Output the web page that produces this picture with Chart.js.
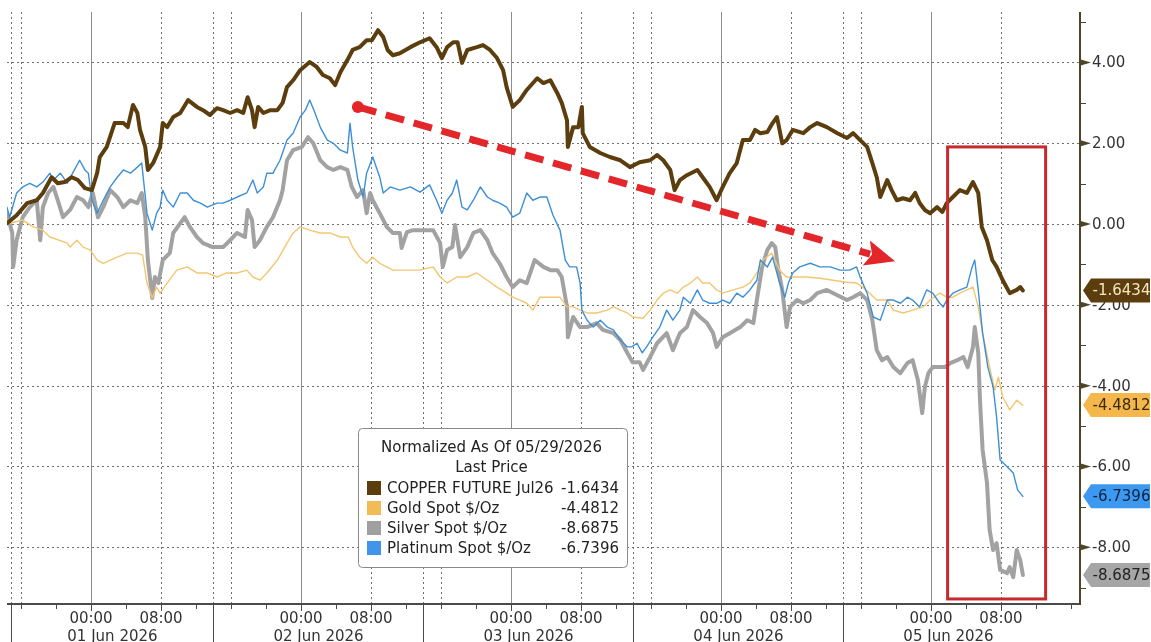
<!DOCTYPE html>
<html>
<head>
<meta charset="utf-8">
<title>Copper vs precious metals, normalized</title>
<script src="https://cdn.jsdelivr.net/npm/chart.js@4.4.1/dist/chart.umd.min.js"></script>
<style>
  html, body { margin: 0; padding: 0; background: #fff; }
</style>
</head>
<body>
<canvas id="chart" width="1151" height="642"></canvas>
<script>
// time is in hours since 01 Jun 2026 00:00, values are % change normalized as of 05/29/2026
const copperHours = [
  -9.6, -8.5, -7.3, -6.2, -5.5, -4.5, -3.8, -3.0, -2.2, -1.5,
  -0.7, 0.1, 0.7, 1.0, 1.8, 2.7, 3.7, 4.2, 4.8, 5.3,
  5.6, 6.2, 6.5, 7.1, 7.9, 8.2, 8.7, 9.4, 10.2, 11.1,
  12.1, 12.8, 13.6, 14.4, 15.1, 15.9, 16.7, 17.4, 17.9, 18.4,
  18.7, 19.1, 19.7, 20.5, 21.3, 21.9, 22.4, 23.1, 23.9, 25.0,
  25.8, 26.5, 27.3, 27.9, 28.5, 29.3, 29.9, 30.7, 31.5, 32.1,
  32.8, 33.4, 33.9, 34.5, 35.3, 36.5, 37.6, 38.7, 39.5, 40.1,
  40.7, 41.4, 41.9, 42.4, 43.0, 44.1, 44.8, 45.6, 46.4, 47.1,
  47.5, 48.2, 49.0, 49.8, 51.0, 51.7, 52.5, 53.3, 53.8, 54.4,
  54.5, 55.1, 55.7, 56.1, 56.2, 57.0, 58.2, 59.3, 60.5, 61.6,
  62.7, 63.9, 64.7, 65.4, 66.2, 66.7, 67.3, 68.1, 69.3, 69.9,
  70.7, 71.5, 72.2, 73.0, 73.8, 74.5, 75.3, 75.9, 76.5, 77.3,
  77.9, 78.4, 79.0, 79.5, 80.2, 81.4, 82.2, 83.0, 84.1, 85.3,
  86.4, 87.1, 87.9, 88.7, 89.3, 89.8, 90.2, 91.0, 91.5, 92.1,
  92.8, 93.6, 94.2, 94.7, 95.3, 95.9, 96.7, 97.3, 97.8, 98.5,
  99.3, 100.1, 100.8, 101.4, 101.8, 102.4, 103.0, 103.5, 104.2, 105.0,
  105.8, 106.2, 106.5
];
const copperValues = [
  0.02, 0.22, 0.52, 0.59, 0.77, 1.16, 1.01, 1.04, 1.16, 1.09,
  0.89, 0.84, 1.26, 1.66, 1.91, 2.50, 2.50, 2.40, 2.95, 2.75,
  2.33, 1.91, 1.34, 1.51, 1.91, 2.50, 2.40, 2.65, 2.75, 3.07,
  2.90, 2.82, 2.70, 2.87, 2.82, 2.75, 2.82, 2.75, 3.14, 2.82,
  2.40, 2.90, 2.75, 2.82, 2.82, 3.00, 3.39, 3.56, 3.81, 4.01,
  3.89, 3.69, 3.61, 3.44, 3.76, 4.06, 4.31, 4.38, 4.55, 4.55,
  4.80, 4.63, 4.31, 4.18, 4.23, 4.38, 4.50, 4.60, 4.38, 4.11,
  4.38, 4.50, 4.50, 3.99, 4.31, 4.38, 4.43, 4.31, 4.11, 3.81,
  3.39, 2.90, 3.07, 3.32, 3.61, 3.49, 3.56, 3.24, 3.00, 2.57,
  1.91, 2.40, 2.40, 2.90, 2.25, 1.91, 1.76, 1.66, 1.58, 1.41,
  1.53, 1.58, 1.71, 1.58, 1.34, 0.84, 1.09, 1.21, 1.34, 1.16,
  0.92, 0.59, 0.92, 1.26, 1.51, 2.08, 2.08, 2.33, 2.25, 2.28,
  2.50, 2.65, 2.00, 2.08, 2.33, 2.25, 2.40, 2.50, 2.40, 2.25,
  2.13, 2.25, 2.08, 1.91, 1.51, 1.16, 0.67, 1.09, 0.84, 0.59,
  0.64, 0.59, 0.77, 0.52, 0.35, 0.27, 0.42, 0.30, 0.52, 0.67,
  0.84, 0.77, 1.04, 0.77, -0.07, -0.40, -0.89, -1.06, -1.39, -1.71,
  -1.63, -1.56, -1.6434
];

const goldHours = [
  -9.6, -9.3, -7.8, -6.6, -5.5, -4.7, -2.7, -2.4, -1.6, -0.9,
  -0.1, 0.7, 1.4, 2.2, 3.0, 4.1, 5.3, 5.9, 6.4, 7.0,
  7.5, 7.9, 8.7, 9.8, 11.0, 12.1, 13.3, 14.4, 15.5, 16.7,
  17.8, 18.5, 19.3, 20.1, 21.3, 22.4, 23.1, 23.9, 25.0, 26.2,
  27.3, 28.5, 29.4, 29.9, 30.7, 31.5, 32.2, 33.0, 33.8, 34.5,
  36.1, 37.6, 39.1, 39.9, 40.7, 41.8, 43.0, 44.1, 45.3, 46.4,
  47.5, 48.2, 49.0, 49.8, 50.5, 51.3, 52.5, 53.6, 54.4, 55.1,
  55.9, 56.7, 57.8, 59.0, 59.7, 60.5, 61.3, 61.9, 63.1, 63.9,
  64.7, 65.4, 66.2, 67.0, 67.7, 68.5, 69.3, 69.9, 70.7, 71.5,
  72.2, 73.4, 74.5, 75.3, 76.1, 76.8, 77.8, 78.7, 79.5, 80.7,
  81.8, 83.3, 84.8, 86.4, 87.5, 88.2, 89.0, 89.8, 91.0, 91.7,
  92.8, 93.9, 95.1, 95.9, 97.0, 97.8, 98.5, 99.3, 100.1, 100.8,
  101.4, 101.9, 102.7, 103.3, 103.7, 104.2, 105.0, 105.8, 106.5
];
const goldValues = [
  0.10, 0.02, 0.10, -0.07, -0.15, -0.32, -0.47, -0.57, -0.40, -0.57,
  -0.64, -0.89, -0.97, -0.89, -0.82, -0.72, -0.72, -0.77, -1.46, -1.83,
  -1.56, -1.71, -1.46, -1.14, -1.06, -1.21, -1.21, -1.31, -1.21, -1.21,
  -1.14, -1.31, -1.39, -1.21, -0.89, -0.47, -0.22, -0.07, -0.15, -0.22,
  -0.22, -0.32, -0.32, -0.57, -0.82, -0.97, -0.82, -0.97, -1.06, -1.14,
  -1.14, -1.14, -1.06, -1.31, -1.46, -1.31, -1.31, -1.21, -1.39, -1.56,
  -1.71, -1.81, -1.88, -1.96, -2.13, -1.81, -1.81, -1.81, -2.05, -2.05,
  -2.13, -2.20, -2.20, -2.13, -2.05, -2.13, -2.20, -2.30, -2.33, -2.13,
  -1.88, -1.71, -1.63, -1.71, -1.56, -1.46, -1.31, -1.46, -1.46, -1.63,
  -1.71, -1.63, -1.56, -1.46, -1.21, -0.89, -0.72, -1.14, -1.31, -1.31,
  -1.31, -1.34, -1.39, -1.44, -1.46, -1.56, -1.71, -1.88, -1.88, -2.13,
  -2.20, -2.13, -2.05, -1.88, -1.71, -1.81, -1.81, -1.71, -1.63, -1.56,
  -2.05, -2.70, -3.54, -4.11, -3.79, -4.28, -4.60, -4.36, -4.4812
];

const silverHours = [
  -9.6, -9.0, -8.9, -8.5, -7.8, -7.0, -6.2, -5.8, -5.5, -4.9,
  -4.3, -3.8, -3.2, -2.4, -1.6, -0.9, -0.3, 0.2, 0.8, 1.4,
  2.2, 3.0, 3.7, 4.5, 5.3, 5.8, 6.2, 6.5, 7.0, 7.3,
  7.7, 8.2, 9.0, 9.4, 9.9, 10.7, 11.3, 12.1, 12.8, 13.9,
  15.1, 15.9, 16.7, 17.6, 17.9, 18.4, 18.7, 19.3, 20.1, 20.8,
  21.6, 21.9, 22.4, 23.1, 24.1, 24.8, 25.4, 26.2, 27.0, 27.7,
  28.5, 29.3, 29.8, 30.4, 31.1, 31.5, 31.9, 32.2, 33.0, 33.8,
  34.5, 35.3, 35.5, 36.1, 36.8, 37.9, 39.1, 39.9, 40.2, 40.7,
  41.3, 41.6, 42.2, 43.0, 43.7, 44.5, 45.3, 45.9, 46.7, 47.5,
  48.2, 49.0, 49.8, 50.7, 51.7, 52.5, 53.3, 53.8, 54.4, 54.5,
  55.1, 55.9, 56.7, 57.8, 58.5, 59.7, 60.5, 61.3, 61.9, 62.7,
  63.1, 63.9, 64.7, 65.8, 66.5, 67.3, 68.1, 68.8, 69.6, 70.4,
  71.1, 71.5, 72.2, 73.0, 74.2, 75.0, 75.7, 76.1, 76.7, 77.3,
  77.8, 78.2, 78.5, 79.0, 79.5, 79.9, 80.7, 81.4, 82.2, 83.0,
  84.1, 85.3, 86.4, 87.1, 87.9, 88.7, 89.3, 89.8, 90.4, 91.0,
  91.7, 92.5, 93.3, 93.9, 94.5, 95.0, 95.3, 95.7, 96.2, 97.0,
  97.6, 98.2, 99.0, 99.7, 100.2, 100.8, 101.0, 101.4, 101.6, 101.9,
  102.4, 102.7, 103.1, 103.5, 103.9, 104.7, 105.0, 105.4, 105.8, 106.2,
  106.5
];
const silverValues = [
  0.27, -0.22, -1.06, -0.40, 0.17, 0.42, 0.59, -0.40, 0.42, 0.77,
  0.92, 0.59, 0.17, 0.35, 0.67, 0.59, 0.42, 0.77, 0.17, 0.42,
  0.84, 0.67, 0.42, 0.59, 0.52, 0.77, 0.17, -0.89, -1.83, -1.31,
  -1.46, -0.89, -0.72, -0.22, -0.07, 0.17, -0.07, -0.32, -0.47, -0.57,
  -0.57, -0.40, -0.22, -0.32, 0.35, 0.10, -0.57, -0.40, -0.07, 0.17,
  0.59, 0.84, 1.58, 1.83, 1.91, 2.15, 2.00, 1.58, 1.41, 1.34,
  1.41, 1.34, 0.92, 0.67, 0.84, 0.27, 0.77, 0.59, 0.27, -0.07,
  -0.22, -0.22, -0.59, -0.20, -0.15, -0.15, -0.15, -0.47, -1.06, -0.64,
  -0.57, -0.02, -0.82, -0.57, -0.22, -0.15, -0.40, -0.72, -0.97, -1.31,
  -1.56, -1.39, -1.46, -0.89, -1.06, -1.14, -1.14, -1.31, -2.05, -2.80,
  -2.30, -2.55, -2.55, -2.45, -2.62, -2.70, -2.87, -3.19, -3.42, -3.42,
  -3.61, -3.29, -2.95, -2.70, -3.12, -2.70, -2.55, -2.13, -2.30, -2.45,
  -2.70, -3.04, -2.80, -2.70, -2.55, -2.38, -2.45, -1.88, -1.06, -0.64,
  -0.47, -0.57, -1.06, -1.63, -2.55, -2.05, -1.88, -1.96, -1.88, -1.71,
  -1.63, -1.76, -1.88, -1.81, -1.71, -1.88, -2.38, -3.12, -3.37, -3.29,
  -3.54, -3.69, -3.44, -3.37, -3.86, -4.68, -4.03, -3.69, -3.54, -3.54,
  -3.54, -3.44, -3.37, -3.29, -3.54, -3.04, -2.55, -3.19, -4.36, -5.59,
  -6.41, -7.57, -8.07, -7.90, -8.56, -8.64, -8.49, -8.74, -8.07, -8.32,
  -8.6875
];

const platinumHours = [
  -9.6, -9.3, -8.5, -7.8, -7.0, -6.2, -5.5, -4.7, -4.3, -3.5,
  -2.7, -2.1, -1.3, -0.7, -0.3, 0.1, 0.7, 1.4, 2.2, 3.0,
  3.7, 4.5, 5.3, 5.8, 6.4, 7.0, 7.5, 7.9, 8.2, 8.7,
  9.4, 10.2, 11.0, 11.7, 12.5, 13.3, 14.4, 15.1, 15.9, 16.7,
  17.8, 18.5, 19.0, 19.7, 20.1, 20.8, 21.6, 22.4, 23.1, 23.9,
  24.5, 25.0, 25.6, 26.2, 27.0, 27.7, 28.5, 29.3, 29.6, 29.9,
  30.5, 31.1, 31.5, 32.2, 33.0, 33.4, 34.2, 35.3, 36.5, 37.6,
  38.7, 39.5, 40.1, 40.7, 41.3, 41.8, 42.4, 43.0, 43.7, 44.5,
  45.3, 45.9, 46.7, 47.5, 48.2, 49.0, 49.8, 50.5, 51.3, 52.1,
  52.8, 53.6, 54.2, 54.7, 55.5, 55.9, 56.1, 56.7, 57.4, 58.2,
  59.0, 59.7, 60.5, 61.3, 61.8, 62.4, 63.0, 63.5, 64.2, 65.0,
  65.8, 66.5, 67.3, 67.7, 68.5, 69.3, 69.9, 70.7, 71.5, 72.2,
  73.0, 73.8, 74.5, 75.3, 76.1, 76.5, 77.3, 77.9, 78.7, 79.3,
  79.7, 80.2, 81.0, 82.2, 83.3, 84.5, 85.6, 86.7, 87.5, 87.9,
  88.7, 89.4, 90.2, 91.0, 91.7, 92.5, 93.3, 93.9, 94.7, 95.5,
  96.2, 97.0, 97.4, 97.8, 98.5, 99.3, 100.1, 100.7, 101.0, 101.4,
  101.9, 102.5, 103.1, 103.5, 103.9, 104.7, 105.4, 105.9, 106.5
];
const platinumValues = [
  0.42, 0.17, 0.77, 0.92, 1.01, 0.92, 1.04, 1.26, 1.09, 1.26,
  1.01, 1.26, 1.58, 1.34, 1.26, 0.59, 0.27, 0.59, 0.92, 1.16,
  1.34, 1.26, 1.41, 1.51, 0.27, -0.15, 0.27, 0.42, 0.84, 0.59,
  0.42, 0.77, 0.77, 0.59, 0.52, 0.42, 0.52, 0.52, 0.59, 0.67,
  0.77, 1.09, 0.77, 0.92, 1.26, 1.26, 1.58, 2.08, 2.25, 2.65,
  2.82, 3.07, 2.75, 2.40, 2.08, 2.00, 1.83, 1.76, 2.50, 1.91,
  1.09, 0.67, 1.26, 1.66, 1.16, 0.77, 0.92, 0.84, 0.92, 0.79,
  0.97, 0.59, 0.27, 0.59, 0.77, 1.09, 0.42, 0.35, 0.59, 0.92,
  0.67, 0.59, 0.52, 0.42, 0.17, 0.27, 0.77, 0.59, 0.67, 0.67,
  0.22, -0.15, -0.89, -1.06, -1.06, -1.46, -2.13, -2.38, -2.55, -2.38,
  -2.55, -2.62, -2.87, -3.04, -3.04, -2.95, -3.19, -3.04, -2.80, -2.55,
  -2.13, -2.38, -2.13, -1.81, -1.96, -1.63, -1.88, -1.96, -1.96, -1.88,
  -1.96, -1.71, -1.81, -1.63, -1.39, -0.89, -1.06, -0.82, -1.46, -1.81,
  -1.46, -1.21, -1.06, -0.97, -1.06, -1.06, -1.14, -1.14, -1.06, -1.31,
  -1.71, -2.30, -2.38, -1.88, -1.88, -1.96, -1.81, -1.88, -2.05, -1.63,
  -1.71, -1.96, -2.05, -1.88, -1.71, -1.63, -1.56, -1.06, -0.89, -1.63,
  -2.70, -3.54, -4.03, -4.78, -5.84, -6.01, -6.16, -6.58, -6.7396
];

// legend / tag order: copper, gold, silver, platinum
const seriesNames = ['COPPER FUTURE Jul26', 'Gold Spot $/Oz', 'Silver Spot $/Oz', 'Platinum Spot $/Oz'];
const lastPrices = [-1.6434, -4.4812, -8.6875, -6.7396];
const lineColors = ['#5c3d0d', '#f3c670', '#a2a2a2', '#3d8fd6'];
const swatchColors = ['#5c3d0d', '#f2bb55', '#a0a0a0', '#3f95ea'];
const tagColors = ['#5c3d0d', '#f4b74c', '#a6a6a6', '#3d98f0'];
const tagTextColors = ['#f6e7bd', '#3a2a08', '#222222', '#0c2440'];

const yTicks = [4, 2, 0, -2, -4, -6, -8];
const yMinorTicks = [5, 3, 1, -1, -3, -5, -7, -9];
const dayLabels = ['01 Jun 2026', '02 Jun 2026', '03 Jun 2026', '04 Jun 2026', '05 Jun 2026'];
const midnightHours = [0, 24, 48, 72, 96];
const morningHours = [8, 32, 56, 80, 104];
const sessionBreaks = [-9.1, 14, 38, 62, 86, 110];
const sessionOpens = [-8, 16, 40, 64, 88];

const legendTitle = ['Normalized As Of 05/29/2026', 'Last Price'];
const highlightBox = { from: 97.9, to: 109.1, top: 1.91, bottom: -9.28 };
const trendArrow = { from: [30.5, 2.9], to: [91.9, -0.92] };

function zip(hours, values) {
  return hours.map((h, i) => ({ x: h, y: values[i] }));
}

const FONT = '15px "DejaVu Sans", Verdana, sans-serif';

function line(ctx, x1, y1, x2, y2) {
  ctx.beginPath();
  ctx.moveTo(x1, y1);
  ctx.lineTo(x2, y2);
  ctx.stroke();
}

const frame = {
  id: 'frame',
  beforeDatasetsDraw(chart) {
    const { ctx, chartArea: a, scales: { x, y } } = chart;
    ctx.save();
    ctx.lineWidth = 1;
    ctx.strokeStyle = '#707070';
    ctx.setLineDash([2, 3]);
    yTicks.forEach(v => {
      const py = Math.round(y.getPixelForValue(v)) + 0.5;
      line(ctx, a.left, py, a.right, py);
    });
    const dotted = morningHours.concat(sessionOpens, sessionBreaks.slice(0, -1));
    dotted.forEach(h => {
      const px = Math.round(x.getPixelForValue(h)) + 0.5;
      line(ctx, px, a.top, px, a.bottom);
    });
    ctx.setLineDash([]);
    ctx.strokeStyle = '#8c8c8c';
    midnightHours.forEach(h => {
      const px = Math.round(x.getPixelForValue(h)) + 0.5;
      line(ctx, px, a.top, px, a.bottom);
    });
    ctx.restore();
  },
  afterDatasetsDraw(chart) {
    const { ctx, chartArea: a, scales: { x, y } } = chart;
    const W = chart.width, H = chart.height;
    ctx.save();

    // red highlight box
    ctx.strokeStyle = '#c62a2d';
    ctx.lineWidth = 3;
    const bx1 = x.getPixelForValue(highlightBox.from), bx2 = x.getPixelForValue(highlightBox.to);
    const by1 = y.getPixelForValue(highlightBox.top), by2 = y.getPixelForValue(highlightBox.bottom);
    ctx.strokeRect(bx1, by1, bx2 - bx1, by2 - by1);

    // dashed trend arrow
    const sx = x.getPixelForValue(trendArrow.from[0]), sy = y.getPixelForValue(trendArrow.from[1]);
    const tx = x.getPixelForValue(trendArrow.to[0]), ty = y.getPixelForValue(trendArrow.to[1]);
    const ang = Math.atan2(ty - sy, tx - sx);
    const headLen = 30, headHalf = 13;
    const hx = tx - headLen * Math.cos(ang), hy = ty - headLen * Math.sin(ang);
    ctx.strokeStyle = '#e2262a';
    ctx.fillStyle = '#e2262a';
    ctx.lineWidth = 7;
    ctx.setLineDash([19, 10]);
    line(ctx, sx, sy, hx + 4 * Math.cos(ang), hy + 4 * Math.sin(ang));
    ctx.setLineDash([]);
    ctx.beginPath();
    ctx.moveTo(tx, ty);
    ctx.lineTo(hx + headHalf * Math.sin(ang), hy - headHalf * Math.cos(ang));
    ctx.lineTo(hx + 6 * Math.cos(ang), hy + 6 * Math.sin(ang));
    ctx.lineTo(hx - headHalf * Math.sin(ang), hy + headHalf * Math.cos(ang));
    ctx.closePath();
    ctx.fill();
    ctx.beginPath();
    ctx.arc(sx, sy, 6, 0, Math.PI * 2);
    ctx.fill();

    // bottom axis
    ctx.strokeStyle = '#4a4a4a';
    ctx.lineWidth = 2;
    line(ctx, a.left, a.bottom + 1, a.right, a.bottom + 1);
    ctx.lineWidth = 1;
    for (let h = -8; h <= 112; h += 4) {
      const px = Math.round(x.getPixelForValue(h)) + 0.5;
      const major = midnightHours.includes(h) || morningHours.includes(h);
      line(ctx, px, a.bottom + 1, px, a.bottom + (major ? 8 : 6));
    }
    sessionBreaks.slice(0, -1).forEach(h => {
      const px = Math.round(x.getPixelForValue(h)) + 0.5;
      line(ctx, px, a.bottom + 1, px, H);
    });
    ctx.font = FONT;
    ctx.fillStyle = '#333';
    ctx.textAlign = 'center';
    ctx.textBaseline = 'middle';
    dayLabels.forEach((d, i) => {
      ctx.fillText('00:00', x.getPixelForValue(midnightHours[i]), a.bottom + 16);
      ctx.fillText('08:00', x.getPixelForValue(morningHours[i]), a.bottom + 16);
      const c = (x.getPixelForValue(sessionBreaks[i]) + x.getPixelForValue(sessionBreaks[i + 1])) / 2;
      ctx.fillText(d, c, a.bottom + 34);
    });

    // right axis
    ctx.strokeStyle = '#4d4526';
    ctx.fillStyle = '#4d4526';
    ctx.lineWidth = 2;
    line(ctx, a.right, a.top, a.right, a.bottom + 2);
    ctx.lineWidth = 1;
    yMinorTicks.forEach(v => {
      const py = Math.round(y.getPixelForValue(v)) + 0.5;
      line(ctx, a.right, py, a.right + 6, py);
    });
    yTicks.forEach(v => {
      const py = y.getPixelForValue(v);
      ctx.beginPath();
      ctx.moveTo(a.right - 1, py - 3.5);
      ctx.lineTo(a.right + 11, py);
      ctx.lineTo(a.right - 1, py + 3.5);
      ctx.closePath();
      ctx.fill();
    });
    ctx.fillStyle = '#333';
    ctx.textAlign = 'left';
    yTicks.forEach(v => {
      ctx.fillText(v.toFixed(2), a.right + 12, y.getPixelForValue(v) + 1);
    });

    // last value tags
    lastPrices.forEach((v, i) => {
      const cy = y.getPixelForValue(v);
      const l = a.right + 3, b = a.right + 11, r = W - 1;
      ctx.fillStyle = tagColors[i];
      ctx.beginPath();
      ctx.moveTo(l, cy);
      ctx.lineTo(b, cy - 12);
      ctx.lineTo(r, cy - 12);
      ctx.lineTo(r, cy + 12);
      ctx.lineTo(b, cy + 12);
      ctx.closePath();
      ctx.fill();
      ctx.fillStyle = tagTextColors[i];
      ctx.textAlign = 'center';
      ctx.fillText(v.toFixed(4), (b + r) / 2 + 1, cy + 1);
    });

    // legend box
    const lx = 358, ly = 428, lw = 269, lh = 139;
    ctx.fillStyle = '#fff';
    ctx.strokeStyle = '#8a8a8a';
    ctx.lineWidth = 1;
    ctx.beginPath();
    ctx.roundRect(lx + 0.5, ly + 0.5, lw, lh, 4);
    ctx.fill();
    ctx.stroke();
    ctx.fillStyle = '#222';
    ctx.textAlign = 'center';
    ctx.fillText(legendTitle[0], lx + lw / 2 - 1, ly + 20);
    ctx.fillText(legendTitle[1], lx + lw / 2 - 1, ly + 40);
    seriesNames.forEach((name, i) => {
      const ry = ly + 60 + i * 20;
      ctx.fillStyle = swatchColors[i];
      ctx.fillRect(lx + 9, ry - 7, 14, 14);
      ctx.fillStyle = '#222';
      ctx.textAlign = 'left';
      ctx.fillText(name, lx + 29, ry + 1);
      ctx.textAlign = 'right';
      ctx.fillText(lastPrices[i].toFixed(4), lx + 261, ry + 1);
    });
    ctx.restore();
  }
};

const lineStyle = { pointRadius: 0, tension: 0, borderJoinStyle: 'round', borderCapStyle: 'round', fill: false };

new Chart(document.getElementById('chart'), {
  type: 'line',
  data: {
    datasets: [
      { ...lineStyle, label: seriesNames[0], data: zip(copperHours, copperValues), borderColor: lineColors[0], borderWidth: 4, order: 0 },
      { ...lineStyle, label: seriesNames[3], data: zip(platinumHours, platinumValues), borderColor: lineColors[3], borderWidth: 1.4, order: 1 },
      { ...lineStyle, label: seriesNames[1], data: zip(goldHours, goldValues), borderColor: lineColors[1], borderWidth: 1.4, order: 2 },
      { ...lineStyle, label: seriesNames[2], data: zip(silverHours, silverValues), borderColor: lineColors[2], borderWidth: 4, order: 3 }
    ]
  },
  options: {
    responsive: false,
    animation: false,
    layout: { padding: { left: 7, right: 71, top: 12, bottom: 39 } },
    plugins: { legend: { display: false }, tooltip: { enabled: false } },
    scales: {
      x: { type: 'linear', min: -9.6, max: 113.03, display: false },
      y: { type: 'linear', min: -9.38, max: 5.25, display: false }
    }
  },
  plugins: [frame]
});
</script>
</body>
</html>
